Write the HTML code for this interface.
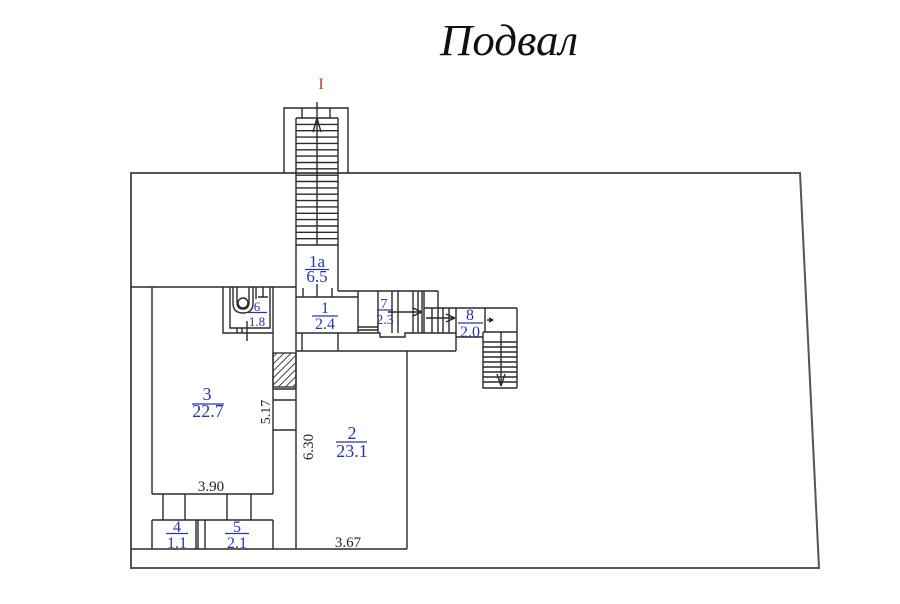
<!DOCTYPE html>
<html><head><meta charset="utf-8"><style>
html,body{margin:0;padding:0;background:#fff;}
svg{display:block;}
.w{stroke:#2a2a2a;stroke-width:1.4;fill:none;}
.o{stroke:#555;stroke-width:2;fill:none;}
.b{font-family:"Liberation Serif",serif;fill:#2a30b8;text-anchor:middle;}
.d{font-family:"Liberation Serif",serif;fill:#222;text-anchor:middle;}
.fl{stroke:#2a30b8;stroke-width:1.2;}
</style></head><body>
<svg width="900" height="604" viewBox="0 0 900 604" xmlns="http://www.w3.org/2000/svg">
<defs>
<pattern id="h" patternUnits="userSpaceOnUse" width="5" height="5" patternTransform="rotate(45)">
<line x1="0" y1="0" x2="0" y2="5" stroke="#333" stroke-width="1.8"/>
</pattern>
</defs>
<rect width="900" height="604" fill="#fff"/>
<text x="440" y="55" font-family="Liberation Serif, serif" font-style="italic" font-size="44" fill="#111" textLength="138" lengthAdjust="spacingAndGlyphs">Подвал</text>
<text x="321" y="89" font-family="Liberation Serif, serif" font-size="16" fill="#c0392b" text-anchor="middle">I</text>

<!-- outer -->
<polygon class="o" points="131,173 800,173 819,568 131,568"/>

<!-- stair 1a -->
<path class="w" d="M284,173 V108 H348 V173"/>
<path class="w" d="M302,108 V118 M330,108 V118"/>
<path class="w" d="M296,118 H338 M296,118 V549 M338,118 V291"/>
<g class="w">
<path d="M296,124.4H338M296,130.7H338M296,137.1H338M296,143.4H338M296,149.8H338M296,156.1H338M296,162.5H338M296,168.8H338M296,175.2H338M296,181.5H338M296,187.9H338M296,194.2H338M296,200.6H338M296,206.9H338M296,213.3H338M296,219.6H338M296,226H338M296,232.3H338M296,238.7H338M296,245H338"/>
</g>
<path class="w" d="M317,102 V245 M317,118 L313,132 M317,118 L321,132 M317,284 V297"/>
<path class="w" d="M303,288 V297 M332,288 V297"/>

<!-- left rooms top -->
<path class="w" d="M131,287 H296"/>
<path class="w" d="M152,287 V494 M152,494 H273 M273,287 V494"/>

<!-- room 6 toilet -->
<path class="w" d="M223,287 V333 H273 M230,287 V328 H270 V287"/>
<path class="w" d="M233,287 V303 Q233,313 243,313 Q253,313 253,303 V287"/>
<path class="w" d="M237,287 V302 Q237,309 243,309 Q249,309 249,302 V287"/>
<circle class="w" cx="243" cy="303" r="5"/>
<path class="w" d="M256,287 V299 M263,287 V297 M258,297 H268"/>
<path class="w" d="M247,321 V341 M237,328 V333 M242,328 V333"/>

<!-- room 1 -->
<path class="w" d="M296,297 H358 M338,291 H438 M358,291 V333"/>
<path class="w" d="M296,333 H380 V337 H405 V333 H456 M296,351 H456 M302,333 V351 M338,333 V351"/>

<!-- room 7 & stairs -->
<path class="w" d="M378,291 V333 M358,327 H378 M358,330 H378"/>
<path class="w" d="M392,291 V333 M398,291 V333 M413,291 V333 M418,291 V333 M422,291 V333 M424,291 V333"/>
<path class="w" d="M388,312 H422 M422,312 L413,308 M422,312 L413,316"/>
<path class="w" d="M438,291 V308 M424,308 H517 M432,308 V333 M438,308 V333 M443,308 V333 M449,308 V333"/>
<path class="w" d="M426,318 H455 M455,318 L446,314 M455,318 L446,322"/>
<path class="w" d="M456,308 V351 M456,337 H483 M485,308 V332 M483,332 H517 M483,332 V388 H517 M517,308 V388"/>
<path class="w" d="M487,320 H493 M493,320 L489,318 M493,320 L489,322"/>
<path class="w" d="M483,342H517M483,347H517M483,352H517M483,357H517M483,362H517M483,367H517M483,372H517M483,377H517M483,382H517"/>
<path class="w" d="M501,332 V386 M501,386 L497,374 M501,386 L505,374"/>

<!-- room 2 -->
<path class="w" d="M407,351 V549 M131,549 H407"/>

<!-- corridor -->
<rect x="273" y="353" width="23" height="34" fill="url(#h)" stroke="#2a2a2a" stroke-width="1.3"/>
<path class="w" d="M273,389 H296 M273,400 H296 M273,430 H296 M273,520 V549"/>

<!-- rooms 4,5 -->
<path class="w" d="M163,494 V520 M185,494 V520 M227,494 V520 M251,494 V520"/>
<path class="w" d="M152,520 H273 M152,520 V549 M196,520 V549 M198,520 V549 M205,520 V549"/>

<!-- labels -->
<text class="b" x="317" y="267" font-size="17">1a</text>
<line class="fl" x1="305" y1="269.5" x2="329" y2="269.5"/>
<text class="b" x="317" y="282" font-size="17">6.5</text>

<text class="b" x="325" y="313" font-size="16">1</text>
<line class="fl" x1="312" y1="316" x2="338" y2="316"/>
<text class="b" x="325" y="329" font-size="16">2.4</text>

<text class="b" x="257" y="311" font-size="13">6</text>
<line class="fl" x1="248" y1="312.5" x2="267" y2="312.5"/>
<text class="b" x="257" y="326" font-size="13">1.8</text>

<text class="b" x="384" y="308" font-size="14">7</text>
<line class="fl" x1="377" y1="310" x2="393" y2="310"/>
<text class="b" x="385" y="324" font-size="14">2.3</text>

<text class="b" x="470" y="320" font-size="16">8</text>
<line class="fl" x1="458" y1="323" x2="483" y2="323"/>
<text class="b" x="470" y="337" font-size="16">2.0</text>

<text class="b" x="207" y="400" font-size="18">3</text>
<line class="fl" x1="192" y1="404" x2="224" y2="404"/>
<text class="b" x="208" y="417" font-size="18">22.7</text>

<text class="b" x="352" y="439" font-size="18">2</text>
<line class="fl" x1="336" y1="442" x2="367" y2="442"/>
<text class="b" x="352" y="457" font-size="18">23.1</text>

<text class="b" x="177" y="532" font-size="16">4</text>
<line class="fl" x1="166" y1="533.5" x2="188" y2="533.5"/>
<text class="b" x="177" y="548" font-size="16">1.1</text>

<text class="b" x="237" y="532" font-size="16">5</text>
<line class="fl" x1="225" y1="533.5" x2="249" y2="533.5"/>
<text class="b" x="237" y="548" font-size="16">2.1</text>

<text class="d" x="211" y="491" font-size="15">3.90</text>
<text class="d" x="348" y="547" font-size="15">3.67</text>
<text class="d" transform="translate(270,412) rotate(-90)" x="0" y="0" font-size="14">5.17</text>
<text class="d" transform="translate(313,447) rotate(-90)" x="0" y="0" font-size="15">6.30</text>
</svg>
</body></html>
